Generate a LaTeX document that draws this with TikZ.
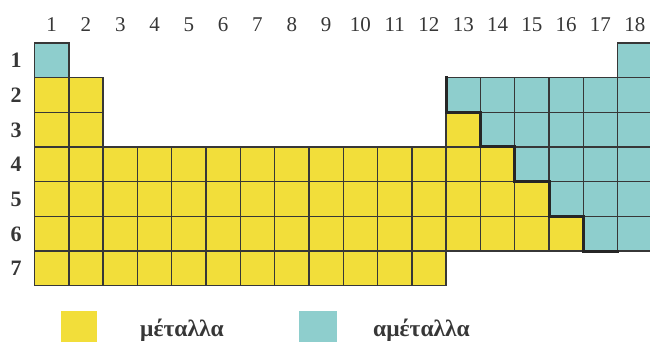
\documentclass[tikz,border=0pt]{standalone}
\usepackage{fontspec}
\setmainfont{Liberation Serif}
\definecolor{metY}{RGB}{242,222,58}
\definecolor{nmT}{RGB}{142,206,205}
\definecolor{gridC}{RGB}{55,55,55}
\definecolor{txtC}{RGB}{55,55,55}
\newcommand\pcell[3]{\draw[#3] ({34.5+(#1-1)*34.3},{42.8+(#2-1)*34.7}) rectangle ++(34.3,34.7);}
\tikzset{
  met/.style={fill=metY, draw=gridC, line width=1.4pt},
  nonmet/.style={fill=nmT, draw=gridC, line width=1.4pt},
  collab/.style={anchor=base, font=\fontsize{21}{21}\selectfont, text=txtC, inner sep=0pt},
  rowlab/.style={anchor=base, font=\fontsize{22}{22}\selectfont\bfseries, text=txtC, inner sep=0pt},
  legtxt/.style={anchor=base west, font=\fontsize{23.5}{23.5}\selectfont\bfseries, text=txtC, inner sep=0pt},
  border/.style={draw=black!85, line width=3pt, line cap=rect}
}
\begin{document}
\begin{tikzpicture}[x=1pt,y=-1pt]
\useasboundingbox (0,0) rectangle (650,341);
% column labels
\foreach \c in {1,...,18}{
  \node[collab] (c\c) at ({34.5+(\c-0.5)*34.3},31) {\c};
}
% row labels
\foreach \r in {1,...,7}{
  \node[rowlab] (r\r) at (16,{42.8+(\r-0.5)*34.7+7.5}) {\r};
}
% row 1
\pcell{1}{1}{nonmet}
\pcell{18}{1}{nonmet}
% row 2,3
\foreach \c in {1,2}{\pcell{\c}{2}{met}\pcell{\c}{3}{met}}
\foreach \c in {13,...,18}{\pcell{\c}{2}{nonmet}}
\pcell{13}{3}{met}
\foreach \c in {14,...,18}{\pcell{\c}{3}{nonmet}}
% row 4
\foreach \c in {1,...,14}{\pcell{\c}{4}{met}}
\foreach \c in {15,...,18}{\pcell{\c}{4}{nonmet}}
% row 5
\foreach \c in {1,...,15}{\pcell{\c}{5}{met}}
\foreach \c in {16,17,18}{\pcell{\c}{5}{nonmet}}
% row 6
\foreach \c in {1,...,16}{\pcell{\c}{6}{met}}
\foreach \c in {17,18}{\pcell{\c}{6}{nonmet}}
% row 7
\foreach \c in {1,...,12}{\pcell{\c}{7}{met}}
% staircase border
\coordinate (s0) at ({34.5+12*34.3},{42.8+1*34.7});
\coordinate (s1) at ({34.5+12*34.3},{42.8+2*34.7});
\coordinate (s2) at ({34.5+13*34.3},{42.8+2*34.7});
\coordinate (s3) at ({34.5+13*34.3},{42.8+3*34.7});
\coordinate (s4) at ({34.5+14*34.3},{42.8+3*34.7});
\coordinate (s5) at ({34.5+14*34.3},{42.8+4*34.7});
\coordinate (s6) at ({34.5+15*34.3},{42.8+4*34.7});
\coordinate (s7) at ({34.5+15*34.3},{42.8+5*34.7});
\coordinate (s8) at ({34.5+16*34.3},{42.8+5*34.7});
\coordinate (s9) at ({34.5+16*34.3},{42.8+6*34.7});
\coordinate (s10) at ({34.5+17*34.3},{42.8+6*34.7});
\draw[border] (s0) -- (s1) -- (s2) -- (s3) -- (s4) -- (s5) -- (s6) -- (s7) -- (s8) -- (s9) -- (s10);
% legend
\fill[metY] (61,311) rectangle (97,345);
\fill[nmT] (299,311) rectangle (337,345);
\node[legtxt] (lm) at (140,336) {μέταλλα};
\node[legtxt] (ln) at (373,336) {αμέταλλα};
\end{tikzpicture}
\end{document}
